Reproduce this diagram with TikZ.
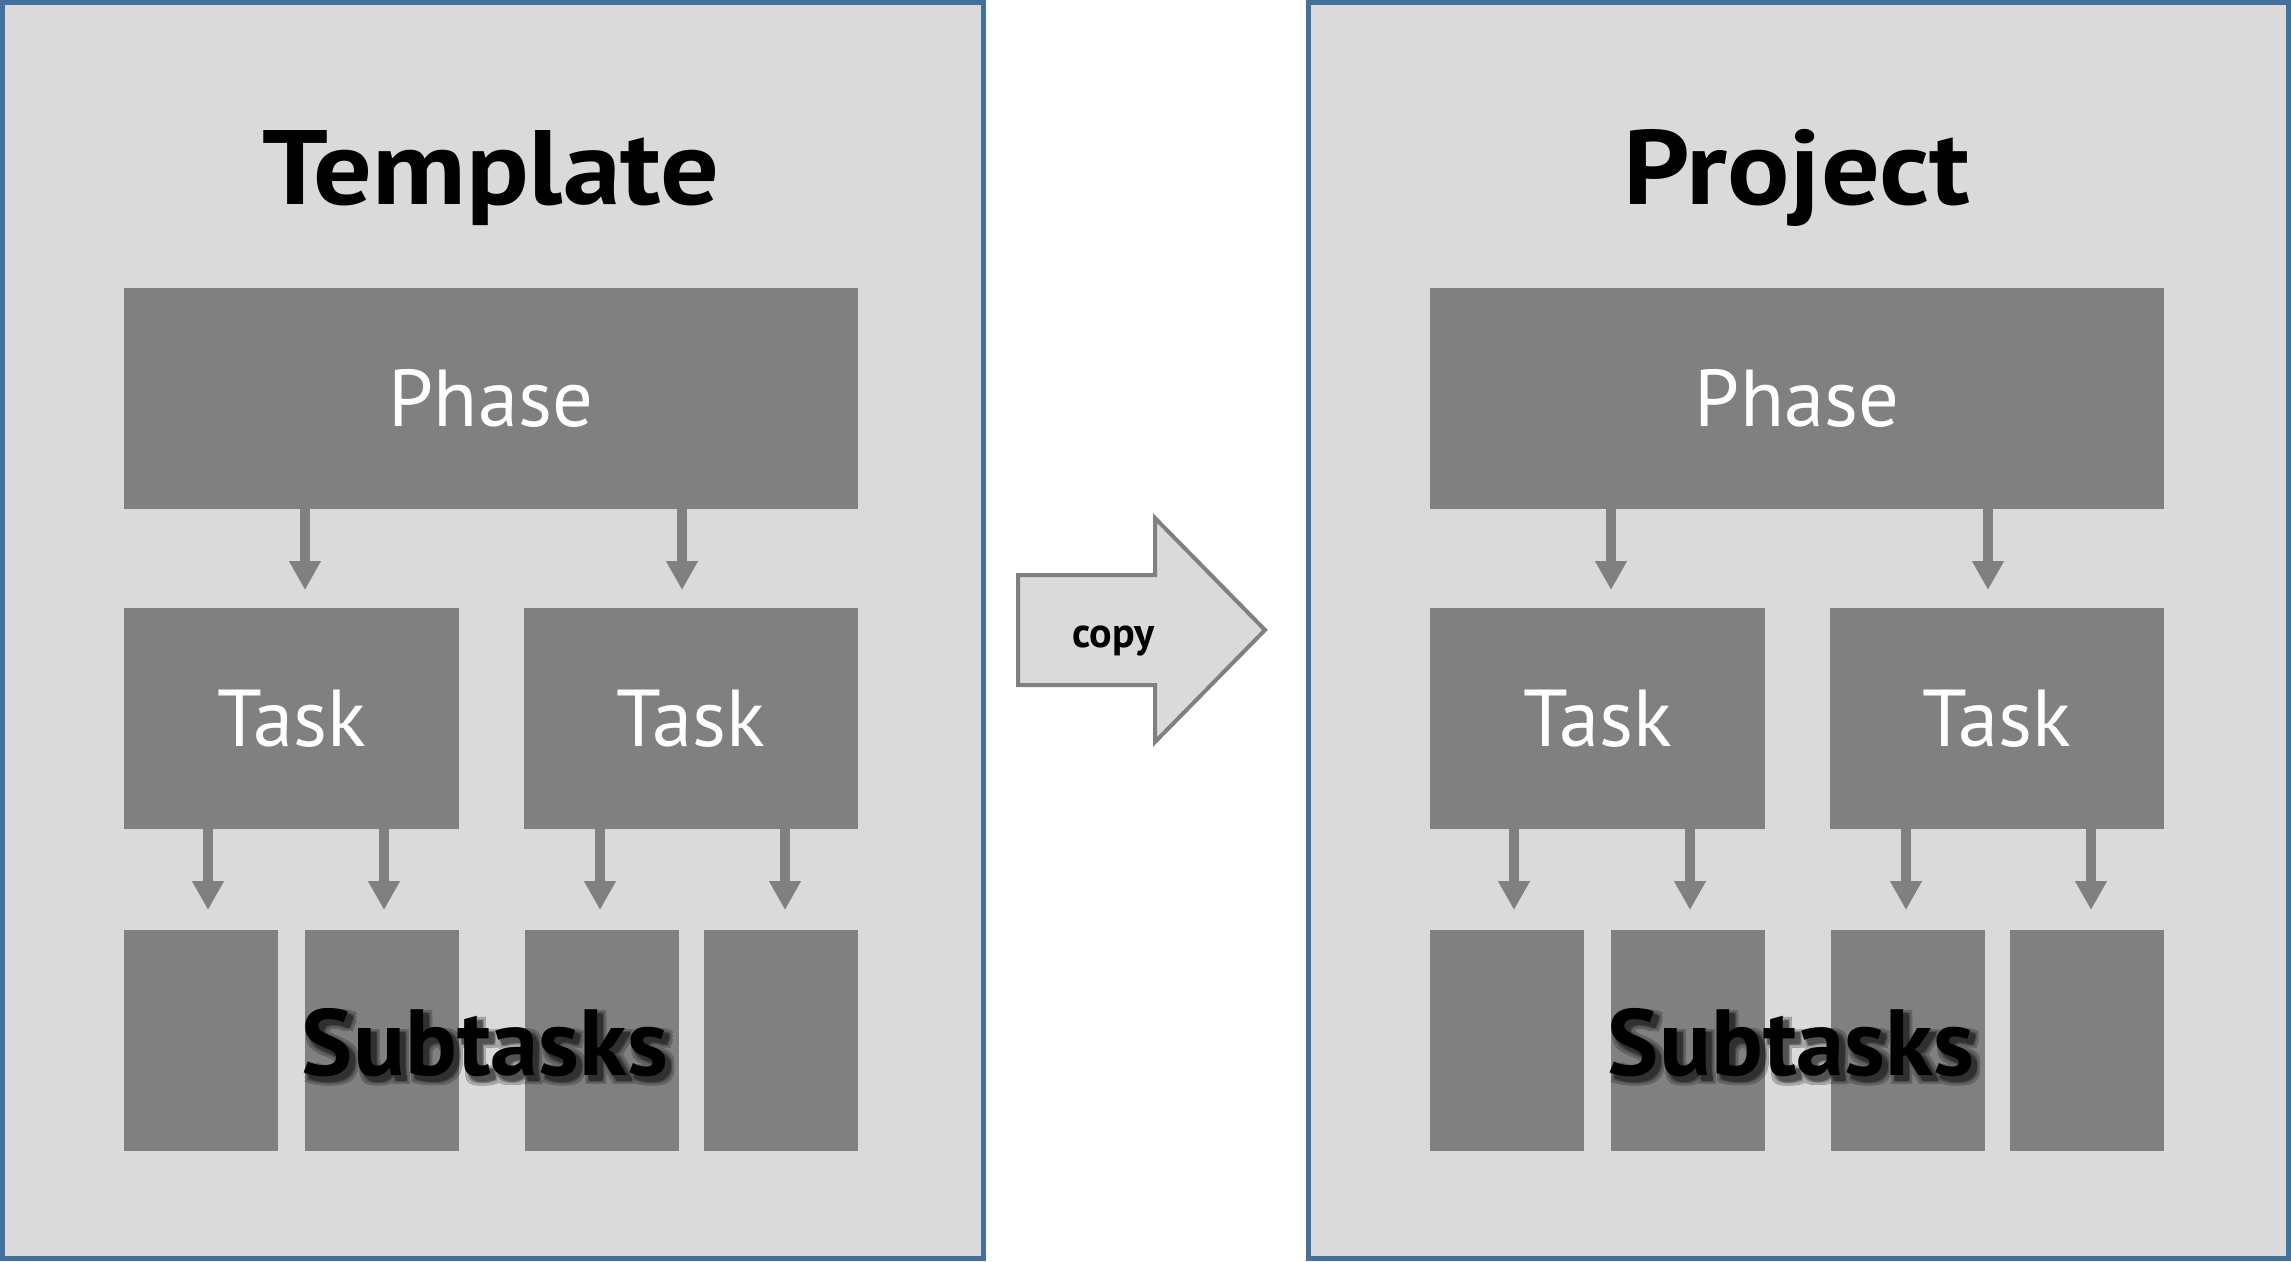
\documentclass[tikz,border=0pt]{standalone}
\usepackage{fontspec}
\setmainfont{PT Sans}
\newfontfamily\titlefont[FakeStretch=1.1]{PT Sans}
\newfontfamily\subfont[FakeStretch=1.03]{PT Sans}
\usetikzlibrary{arrows.meta,fadings}
\definecolor{panelfill}{HTML}{DADADA}
\definecolor{panelborder}{HTML}{41719C}
\definecolor{boxgray}{HTML}{808080}
\tikzset{
  panel/.style={draw=panelborder, line width=5pt, fill=panelfill, inner sep=0pt, outer sep=0pt},
  graybox/.style={fill=boxgray, inner sep=0pt, outer sep=0pt, minimum height=221pt},
  boxlabel/.style={text=white, font=\fontsize{80.7}{90}\selectfont, text height=56.5pt, text depth=0pt},
  titletext/.style={font=\titlefont\bfseries\fontsize{105.7}{120}\selectfont, anchor=base, inner sep=0pt},
  subtext/.style={font=\subfont\bfseries\fontsize{94}{110}\selectfont, anchor=base, inner sep=0pt},
  flow/.style={draw=boxgray, line width=10pt, -{Triangle[width=30pt,length=29pt]}},
  copyarrow/.style={draw=boxgray, line width=4pt, fill=panelfill, line join=miter},
}
\begin{tikzfadingfrompicture}[name=subshadow, x=1pt, y=-1pt]
  \path (-300,-150) rectangle (300,150);
  \foreach \dx/\dy in {1/1,5/1,9/1,1/5,9/5,1/9,5/9,9/9,3/5,7/5,5/3,5/7}{
    \node[subtext, text=white!22!black] at (\dx,\dy) {Subtasks};
  }
  \foreach \dx/\dy in {3/3,7/3,3/7,7/7,5/5}{
    \node[subtext, text=white!42!black] at (\dx,\dy) {Subtasks};
  }
  \foreach \dx/\dy in {4/5,6/5,5/4,5/6}{
    \node[subtext, text=white!62!black] at (\dx,\dy) {Subtasks};
  }
\end{tikzfadingfrompicture}
\begin{document}
\begin{tikzpicture}[x=1pt,y=-1pt]
\useasboundingbox (0,0) rectangle (2291,1261);
\fill[white] (0,0) rectangle (2291,1261);
\foreach \o/\p/\t/\w in {0/T/Template/981, 1306/P/Project/980}{
  \node[panel, minimum width=\w pt, minimum height=1256pt] (panel\p) at (493+\o-0.5*981+0.5*\w, 630.5) {};
  \node[titletext] (title\p) at (491+\o, 204) {\t};
  \node[graybox, boxlabel, minimum width=734pt] (phase\p) at (491+\o, 398.5) {Phase};
  \node[graybox, boxlabel, minimum width=335pt] (taskA\p) at (291.5+\o, 718.5) {Task};
  \node[graybox, boxlabel, minimum width=334pt] (taskB\p) at (691+\o, 718.5) {Task};
  \node[graybox, minimum width=154pt] (subA\p) at (201+\o, 1040.5) {};
  \node[graybox, minimum width=154pt] (subB\p) at (382+\o, 1040.5) {};
  \node[graybox, minimum width=154pt] (subC\p) at (602+\o, 1040.5) {};
  \node[graybox, minimum width=154pt] (subD\p) at (781+\o, 1040.5) {};
  \coordinate (xa\p) at (305+\o, 0);
  \coordinate (xb\p) at (682+\o, 0);
  \coordinate (xc\p) at (208+\o, 0);
  \coordinate (xd\p) at (384+\o, 0);
  \coordinate (xe\p) at (600+\o, 0);
  \coordinate (xf\p) at (785+\o, 0);
  \draw[flow, shorten >=18pt] (phase\p.south -| xa\p) -- (taskA\p.north -| xa\p);
  \draw[flow, shorten >=18pt] (phase\p.south -| xb\p) -- (taskB\p.north -| xb\p);
  \draw[flow, shorten >=20pt] (taskA\p.south -| xc\p) -- (subA\p.north -| xc\p);
  \draw[flow, shorten >=20pt] (taskA\p.south -| xd\p) -- (subB\p.north -| xd\p);
  \draw[flow, shorten >=20pt] (taskB\p.south -| xe\p) -- (subC\p.north -| xe\p);
  \draw[flow, shorten >=20pt] (taskB\p.south -| xf\p) -- (subD\p.north -| xf\p);
  \coordinate (subc\p) at (485+\o, 1075);
  \fill[black, path fading=subshadow, fit fading=false, fading transform={shift={(subc\p)}}]
    ([shift={(-300,-150)}]subc\p) rectangle ([shift={(300,150)}]subc\p);
  \node[subtext, text=black] (subtasks\p) at (subc\p) {Subtasks};
}
\draw[copyarrow] (1018,575) -- (1155,575) -- (1155,518) -- (1265,630) -- (1155,742) -- (1155,685) -- (1018,685) -- cycle;
\node[font=\bfseries\fontsize{42}{50}\selectfont, anchor=base, inner sep=0pt] (copy) at (1113.5,647) {copy};
\end{tikzpicture}
\end{document}
